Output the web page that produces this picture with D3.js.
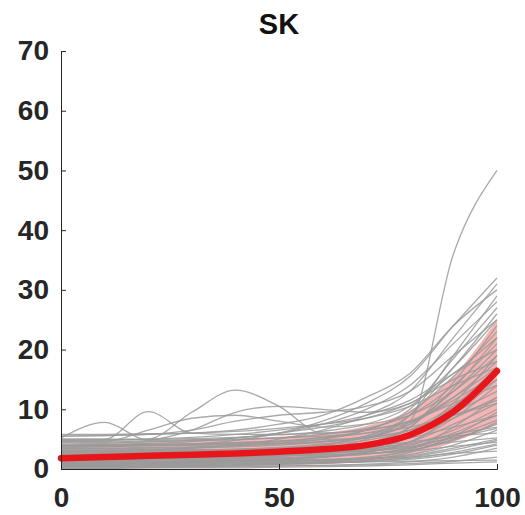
<!DOCTYPE html>
<html>
<head>
<meta charset="utf-8">
<script src="https://cdn.jsdelivr.net/npm/d3@7/dist/d3.min.js"></script>
<style>
  body { margin: 0; background: #fff; }
  .axis text { font-family: "Liberation Sans", Arial, sans-serif; font-weight: bold; font-size: 28px; fill: #262626; }
  .axis path, .axis line { stroke: #262626; stroke-width: 1; }
</style>
</head>
<body>
<div id="chart"></div>
<script>
// sample positions along the x axis
var xs = [0, 10, 20, 30, 40, 50, 60, 70, 80, 90, 100];

// individual traces (grey)
var traces = [
  [0.5,0.6,0.7,0.8,0.9,1.0,1.1,1.2,1.3,1.4,1.5],
  [1.0,1.1,1.2,1.3,1.4,1.5,1.6,1.8,2.0,2.6,3.0],
  [1.5,1.6,1.7,1.8,2.0,2.2,2.4,2.6,3.0,3.8,4.5],
  [2.0,2.0,2.1,2.2,2.3,2.4,2.6,3.0,3.6,4.5,5.2],
  [0.8,0.8,0.9,1.0,1.1,1.2,1.4,1.7,2.4,4.0,6.5],
  [2.5,2.6,2.6,2.7,2.8,3.0,3.2,3.5,4.2,5.8,7.0],
  [1.2,1.3,1.3,1.4,1.5,1.7,2.0,2.5,3.5,5.5,8.2],
  [3.0,3.0,3.1,3.2,3.3,3.5,3.8,4.3,5.2,7.0,9.0],
  [0.3,0.4,0.4,0.5,0.6,0.8,1.0,1.5,2.8,5.5,9.5],
  [1.8,1.9,2.0,2.1,2.3,2.5,2.8,3.3,4.5,7.5,11],
  [2.2,2.3,2.4,2.5,2.7,3.0,3.4,4.0,5.5,8.5,12],
  [3.5,3.5,3.6,3.7,3.9,4.2,4.6,5.2,6.5,9.5,13],
  [1.0,1.0,1.1,1.2,1.4,1.6,2.0,2.8,4.5,8.5,14],
  [2.6,2.7,2.8,3.0,3.2,3.5,4.0,4.8,6.5,10.5,15],
  [4.0,4.0,4.1,4.2,4.4,4.7,5.2,6.0,7.8,11.5,16],
  [1.5,1.5,1.6,1.7,1.9,2.2,2.6,3.4,5.5,10.5,17],
  [3.2,3.2,3.3,3.5,3.7,4.0,4.5,5.5,7.5,12,18],
  [0.7,0.8,0.9,1.0,1.2,1.5,2.0,3.0,5.5,11,19],
  [2.8,2.9,3.0,3.1,3.3,3.6,4.2,5.2,7.5,13,20],
  [4.5,4.5,4.6,4.7,4.9,5.2,5.8,6.8,9.0,14,21],
  [2.0,2.0,2.1,2.2,2.4,2.7,3.2,4.2,7.0,13.5,22],
  [3.8,3.8,3.9,4.0,4.2,4.6,5.3,6.5,9.5,15.5,23],
  [1.3,1.4,1.5,1.6,1.8,2.1,2.7,3.8,7.0,14.5,24],
  [5.0,5.0,5.0,5.1,5.3,5.7,6.3,7.5,10.5,17,25],
  [2.4,2.5,2.6,2.7,2.9,3.3,4.0,5.5,9.0,17,26],
  [3.4,3.4,3.5,3.6,3.9,4.3,5.0,6.5,10,18.5,27],
  [4.2,4.3,4.5,4.8,5.2,6.0,7.5,10,14,21,28],
  [1.7,1.8,1.9,2.0,2.3,2.7,3.5,5.0,9.0,19,29],
  [5.5,5.6,5.8,6.0,6.5,7.5,9.0,12,16,24,30],
  [2.9,3.0,3.2,3.5,4.0,5.0,6.5,9.0,13,22,31],
  [3.6,3.7,3.9,4.2,4.8,6.0,8.0,11,15.5,24,32],
  [4.0,4.0,4.1,4.2,4.4,4.6,4.9,5.3,8.0,36,50],
  [5.2,7.8,4.8,4.9,5.0,5.2,5.5,6.0,7.0,9.0,11],
  [5.0,5.0,9.6,6.0,5.8,5.8,6.0,6.5,8.0,12,17],
  [4.6,4.6,6.5,8.5,9.0,8.0,7.0,7.5,9.0,13,19],
  [4.8,4.8,5.0,9.5,13.2,10.5,6.0,6.5,8.0,11,14],
  [4.5,4.5,4.8,6.5,9.5,10.5,10.0,9.5,11,16,22],
  [5.5,5.6,5.8,6.5,8.0,9.0,9.5,10.5,13,19,25],
  [4.8,4.9,5.0,5.3,5.8,6.5,7.5,9.0,11.5,16,20],
  [5.8,5.8,5.9,6.0,6.3,6.8,7.5,8.5,10.5,14,17],
  [4.0,4.1,4.3,4.6,5.2,6.0,7.0,8.5,11,15,18],
  [0.2,0.2,0.3,0.3,0.4,0.5,0.6,0.8,1.2,2.0,3.5],
  [0.6,0.6,0.7,0.7,0.8,0.9,1.0,1.2,1.6,2.5,4.0],
  [1.1,1.1,1.2,1.2,1.3,1.4,1.5,1.7,2.2,3.5,5.0],
  [0.9,0.9,1.0,1.1,1.2,1.3,1.5,2.0,3.0,5.0,7.5],
  [1.6,1.6,1.7,1.7,1.8,1.9,2.1,2.5,3.5,6.0,9.0],
  [2.3,2.3,2.4,2.4,2.5,2.6,2.8,3.2,4.0,6.5,10],
  [0.4,0.5,0.5,0.6,0.7,0.9,1.2,1.8,3.2,7.0,12],
  [1.4,1.4,1.5,1.5,1.6,1.8,2.1,2.8,4.5,9.0,15],
  [2.7,2.7,2.8,2.8,2.9,3.1,3.4,4.0,5.8,10,16],
  [0.1,0.1,0.2,0.2,0.2,0.3,0.4,0.5,0.7,1.0,1.2],
  [3.1,3.1,3.1,3.2,3.3,3.4,3.6,3.9,4.5,5.5,6.0],
  [2.1,2.1,2.2,2.2,2.3,2.4,2.6,3.0,3.8,5.2,6.8],
  [0.5,0.5,0.6,0.6,0.7,0.8,1.0,1.3,2.0,3.2,4.8],
  [3.9,3.9,4.0,4.0,4.1,4.3,4.6,5.2,6.5,9.0,11.5],
  [0.3,0.3,0.3,0.4,0.4,0.5,0.6,0.7,0.9,1.3,2.0],
  [0.8,0.9,0.9,1.0,1.0,1.1,1.2,1.4,1.8,2.8,4.2],
  [1.9,1.9,2.0,2.0,2.1,2.2,2.3,2.6,3.2,4.8,7.8]
];

// mean curve and shaded band
var meanValues = [1.8, 2.0, 2.2, 2.4, 2.6, 2.9, 3.3, 4.0, 5.7, 9.6, 16.4];
var bandUpper  = [4.0, 4.2, 4.4, 4.7, 5.0, 5.4, 6.0, 7.2, 9.8, 15.5, 25.0];
var bandLower  = [0.0, 0.0, 0.1, 0.2, 0.4, 0.6, 0.8, 1.2, 2.2, 4.5, 7.5];

var xTicks = [0, 50, 100];
var yTicks = [0, 10, 20, 30, 40, 50, 60, 70];
var title = "SK";

var width = 525, height = 515;

var x = d3.scaleLinear().domain([0, 100]).range([61, 497]);
var y = d3.scaleLinear().domain([0, 70]).range([469, 51]);

var svg = d3.select("#chart").append("svg")
    .attr("width", width)
    .attr("height", height);

var line = d3.line()
    .curve(d3.curveMonotoneX)
    .x(function(d, i) { return x(xs[i]); })
    .y(function(d) { return y(d); });

var smooth = d3.line()
    .curve(d3.curveCatmullRom.alpha(0.5))
    .x(function(d, i) { return x(xs[i]); })
    .y(function(d) { return y(d); });

var area = d3.area()
    .curve(d3.curveCatmullRom.alpha(0.5))
    .x(function(d, i) { return x(xs[i]); })
    .y0(function(d, i) { return y(bandLower[i]); })
    .y1(function(d) { return y(d); });

// band
svg.append("path")
    .datum(bandUpper)
    .attr("d", area)
    .attr("fill", "#f7b4b4");

// grey traces
svg.append("g").selectAll("path")
    .data(traces)
    .enter().append("path")
      .attr("d", line)
      .attr("fill", "none")
      .attr("stroke", "#9a9a9a")
      .attr("stroke-opacity", 0.85)
      .attr("stroke-width", 1.3);

// mean
svg.append("path")
    .datum(meanValues)
    .attr("d", smooth)
    .attr("fill", "none")
    .attr("stroke", "#e8161a")
    .attr("stroke-width", 6.5)
    .attr("stroke-linecap", "round");

// axes, ticks pointing inward
svg.append("g")
    .attr("class", "axis")
    .attr("transform", "translate(0," + y(0) + ")")
    .call(d3.axisBottom(x).tickValues(xTicks).tickSizeInner(-5).tickSizeOuter(-5).tickPadding(18))
    .call(function(g) { g.selectAll("text").attr("dy", "0.71em"); });

svg.append("g")
    .attr("class", "axis")
    .attr("transform", "translate(" + x(0) + ",0)")
    .call(d3.axisLeft(y).tickValues(yTicks).tickSizeInner(-5).tickSizeOuter(-5).tickPadding(12));

svg.append("text")
    .attr("x", (x(0) + x(100)) / 2)
    .attr("y", 34)
    .attr("text-anchor", "middle")
    .style("font-family", "Liberation Sans, Arial, sans-serif")
    .style("font-weight", "bold")
    .style("font-size", "29px")
    .style("fill", "#111")
    .text(title);
</script>
</body>
</html>
